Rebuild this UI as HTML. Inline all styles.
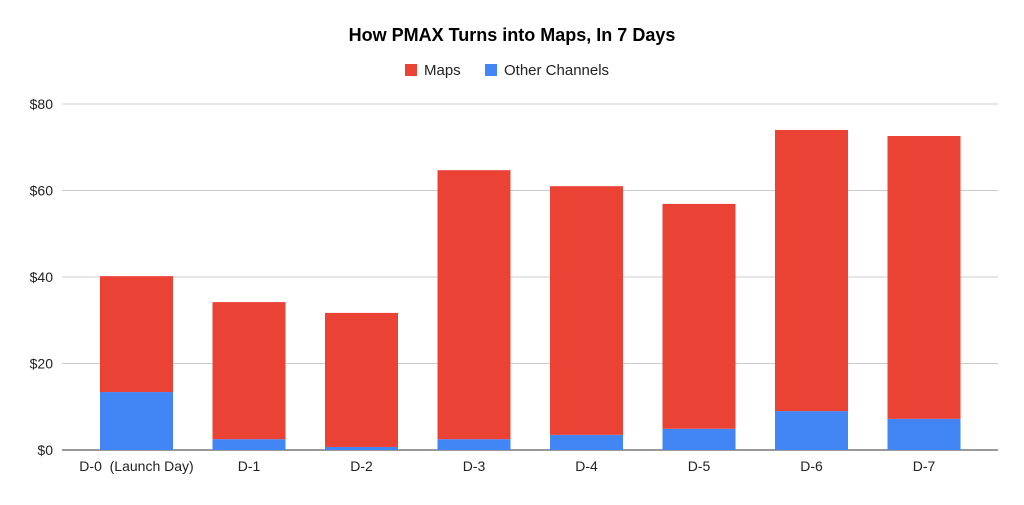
<!DOCTYPE html>
<html><head><meta charset="utf-8"><style>
body{margin:0;background:#fff;font-family:"Liberation Sans",Arial,sans-serif}
</style></head><body>
<svg id="chart" width="1024" height="500" xmlns="http://www.w3.org/2000/svg">
<text x="512" y="41" text-anchor="middle" font-size="18" font-weight="bold" fill="#000">How PMAX Turns into Maps, In 7 Days</text>
<g>
<rect x="405" y="64" width="12" height="12" fill="#ea4335"/>
<text x="424" y="75" font-size="15" fill="#222">Maps</text>
<rect x="485" y="64" width="12" height="12" fill="#4285f4"/>
<text x="504" y="75" font-size="15" fill="#222">Other Channels</text>
</g>
<g id="grid"></g><g id="bars"></g><g id="labels"></g>
</svg>
<script>
const categories=["D-0\u00a0\u00a0(Launch Day)","D-1","D-2","D-3","D-4","D-5","D-6","D-7"];
const otherValues=[13.4,2.5,0.7,2.5,3.5,4.9,9.0,7.2];
const mapsValues=[26.8,31.7,31.0,62.2,57.5,52.0,65.0,65.4];
const yTicks=[0,20,40,60,80];
const yTickLabels=["$0","$20","$40","$60","$80"];
const NS="http://www.w3.org/2000/svg";
const y0=450,yTop=104,yMax=80;
const y=v=>y0-(v/yMax)*(y0-yTop);
const xc=i=>136.5+i*112.5;
const bw=73;
function mk(t,a,p){const e=document.createElementNS(NS,t);for(const k in a)e.setAttribute(k,a[k]);p.appendChild(e);return e;}
const grid=document.getElementById('grid'),bars=document.getElementById('bars'),labels=document.getElementById('labels');
yTicks.forEach((v,i)=>{
 const l=mk('line',{x1:62,x2:998,y1:y(v),y2:y(v),stroke:i==0?'#333':'#ccc','stroke-width':1},grid);
 
 
 const t=mk('text',{x:53,y:y(v)+5,'text-anchor':'end','font-size':14,fill:'#222'},labels);
 t.textContent=yTickLabels[i];
 
 
});
categories.forEach((c,i)=>{
 const o=otherValues[i],m=mapsValues[i];
 const b1=mk('rect',{x:xc(i)-bw/2,y:y(o),width:bw,height:y0-y(o),fill:'#4285f4'},bars);
 
 
 const b2=mk('rect',{x:xc(i)-bw/2,y:y(o+m),width:bw,height:y(o)-y(o+m),fill:'#ea4335'},bars);
 
 
 const t=mk('text',{x:xc(i),y:471,'text-anchor':'middle','font-size':14,fill:'#222'},labels);
 t.textContent=c;
 
 
});
</script>
</body></html>
